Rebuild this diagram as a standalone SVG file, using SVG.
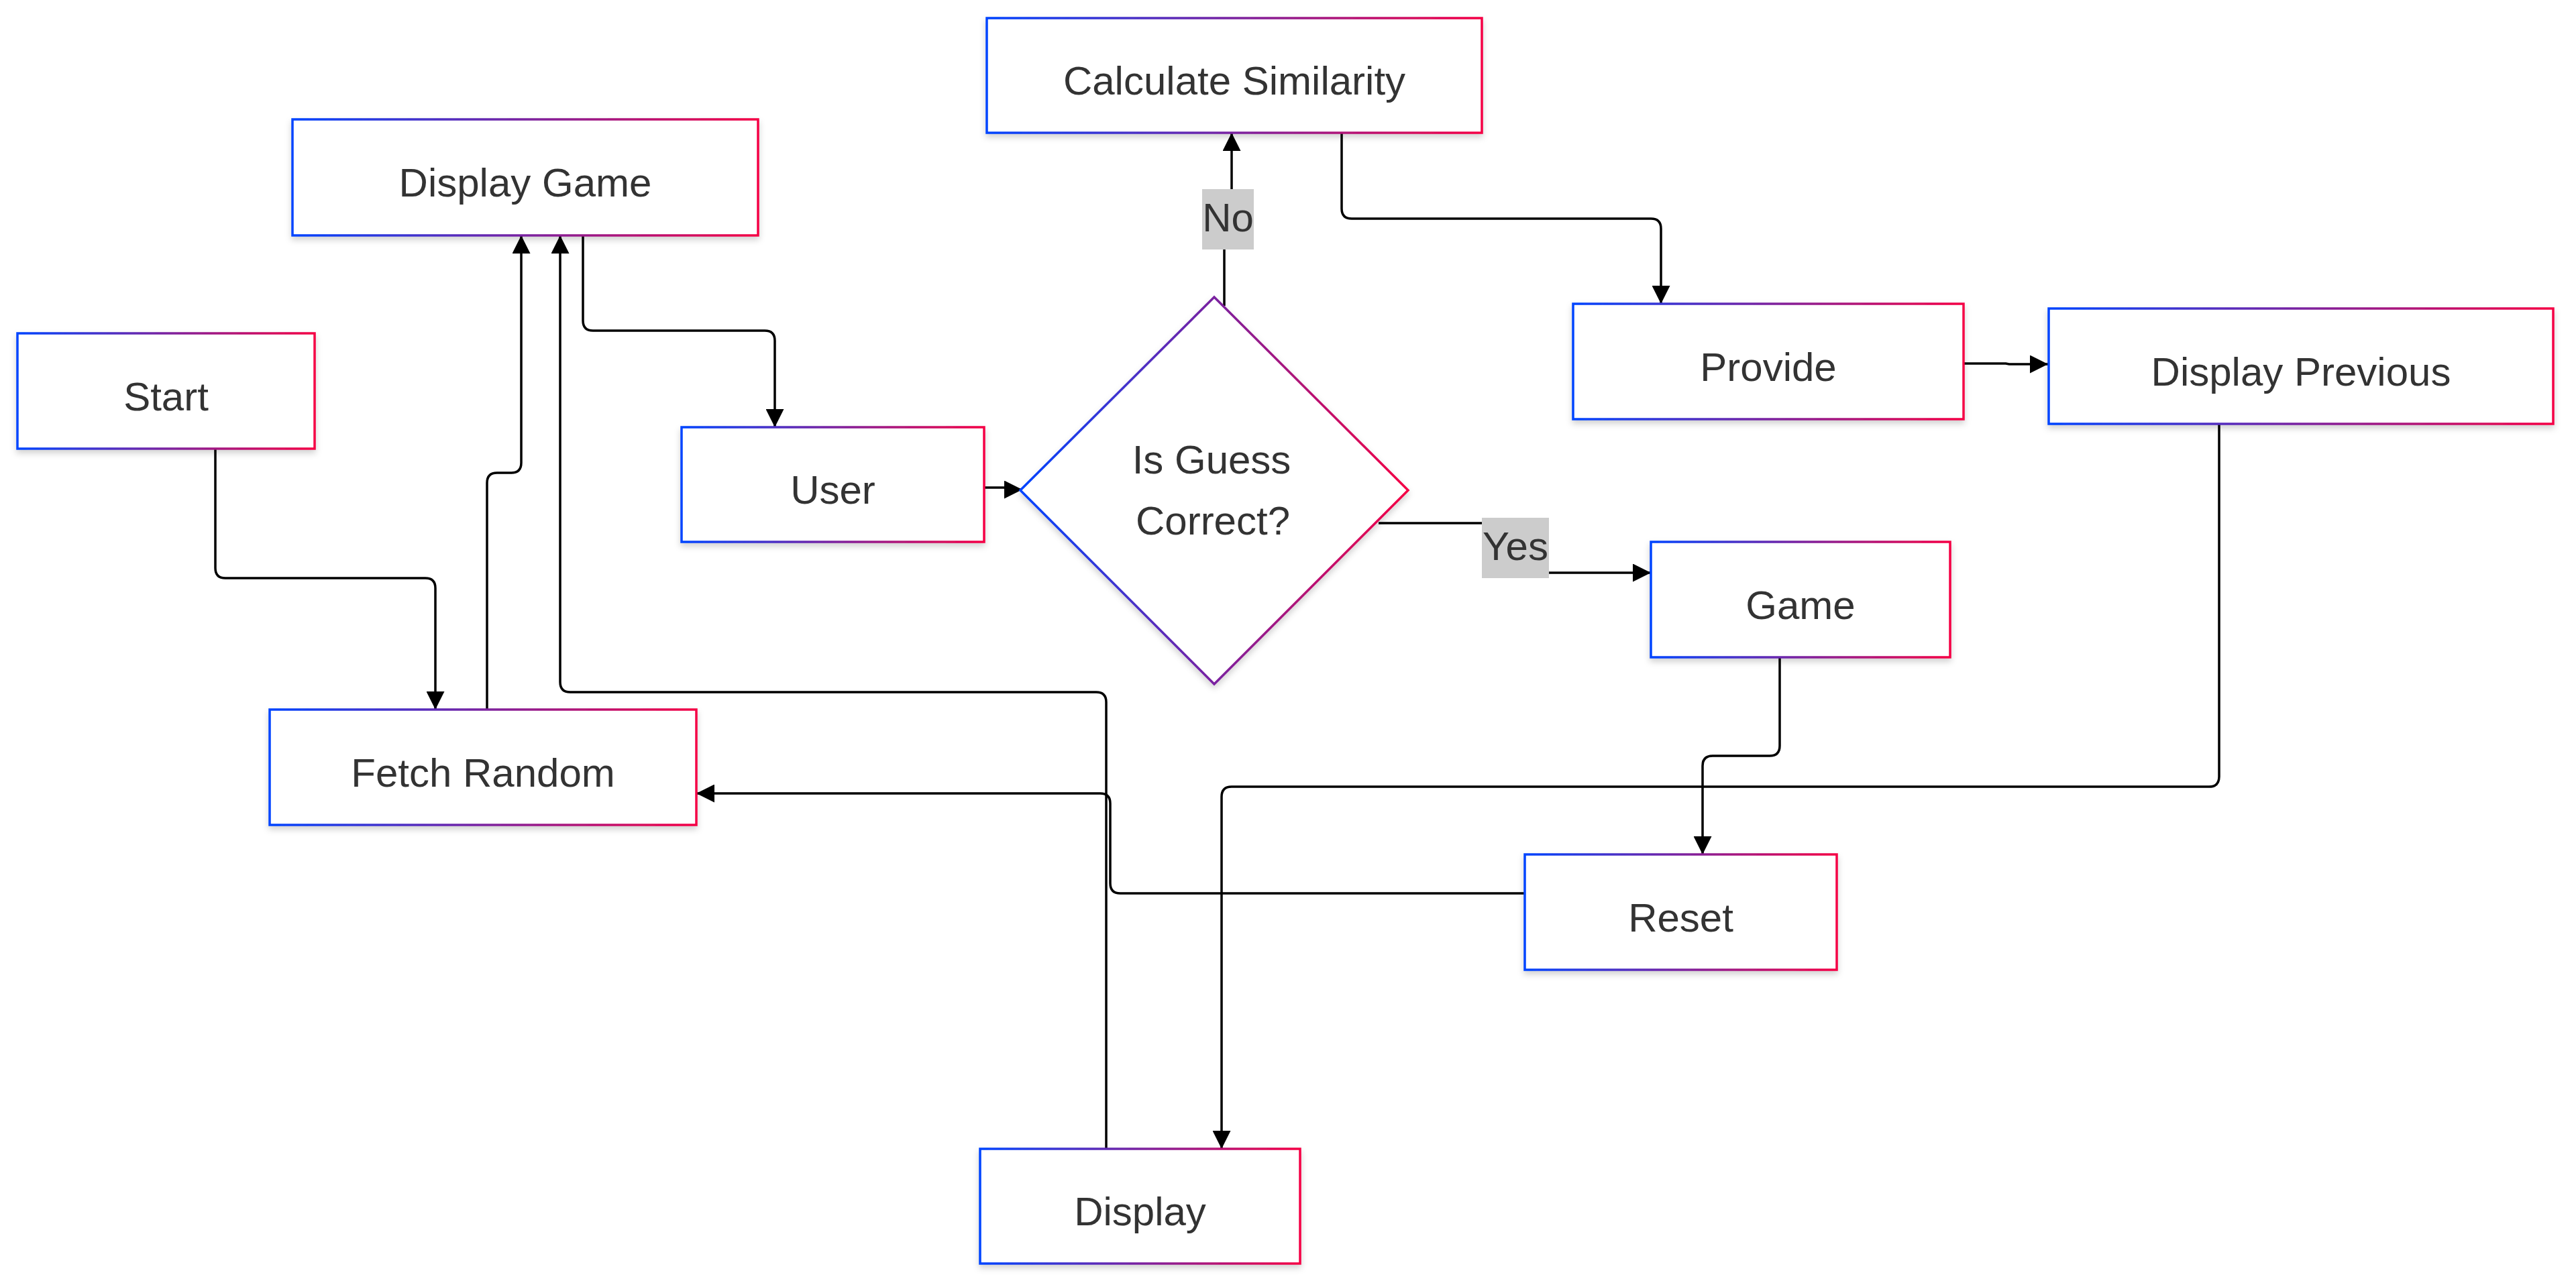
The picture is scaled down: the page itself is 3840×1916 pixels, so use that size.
<svg xmlns="http://www.w3.org/2000/svg" width="3840" height="1916" viewBox="0 0 3840 1916">
<defs>
<linearGradient id="g" x1="0" y1="0" x2="1" y2="0">
<stop offset="0" stop-color="#0044ff"/>
<stop offset="0.5" stop-color="#7a22a0"/>
<stop offset="1" stop-color="#f50044"/>
</linearGradient>
<filter id="sh" x="-10%" y="-10%" width="120%" height="130%">
<feDropShadow dx="0" dy="5" stdDeviation="5" flood-color="#000" flood-opacity="0.18"/>
</filter>
<marker id="arr" markerUnits="userSpaceOnUse" markerWidth="27" markerHeight="27" viewBox="0 0 10 10" refX="10" refY="5" orient="auto">
<path d="M0,0 L10,5 L0,10 z" fill="#000"/>
</marker>
</defs>
<style>
.n{fill:#fff;stroke:url(#g);stroke-width:3.5;filter:url(#sh)}
.t{font-family:"Liberation Sans",Arial,sans-serif;font-size:60px;fill:#333;text-anchor:middle}
.e{fill:none;stroke:#000;stroke-width:3.5;marker-end:url(#arr)}
.lb{fill:#cccccc}
</style>
<rect width="3840" height="1916" fill="#fff"/>
<g id="connectors">
<path class="e" d="M321,669 L321,847 Q321,862 336,862 L634,862 Q649,862 649,877 L649,1058"/>
<path class="e" d="M726,1058 L726,720 Q726,705 741,705 L762,705 Q777,705 777,690 L777,351"/>
<path class="e" d="M869,351 L869,478 Q869,493 884,493 L1140,493 Q1155,493 1155,508 L1155,637"/>
<path class="e" d="M1467,727 L1496,727 Q1500,727 1500,730 L1524,730"/>
<path class="e" d="M1825,456 L1825,330 Q1825,327 1829,327 L1832,327 Q1836,327 1836,322 L1836,198"/>
<path class="e" d="M2055,780 L2240,780 Q2255,780 2255,795 L2255,839 Q2255,854 2270,854 L2461,854"/>
<path class="e" d="M2000,198 L2000,311 Q2000,326 2015,326 L2461,326 Q2476,326 2476,341 L2476,453"/>
<path class="e" d="M2926,542 L2990,542 L2995,543 L3053,543"/>
<path class="e" d="M2653,980 L2653,1112 Q2653,1127 2638,1127 L2553,1127 Q2538,1127 2538,1142 L2538,1274"/>
<path class="e" d="M2273,1332 L1670,1332 Q1655,1332 1655,1317 L1655,1198 Q1655,1183 1640,1183 L1038,1183"/>
<path class="e" d="M3308,632 L3308,1158 Q3308,1173 3293,1173 L1836,1173 Q1821,1173 1821,1188 L1821,1713"/>
<path class="e" d="M1649,1713 L1649,1047 Q1649,1032 1634,1032 L850,1032 Q835,1032 835,1017 L835,351"/>
<g id="label-no">
<rect class="lb" x="1792" y="282" width="77" height="90"/>
<text class="t" x="1830.5" y="345">No</text>
</g>
<g id="label-yes">
<rect class="lb" x="2209" y="772" width="100" height="90"/>
<text class="t" x="2259" y="835">Yes</text>
</g>
</g>
<g id="start">
<rect class="n" x="26" y="497" width="443" height="172"/>
<text class="t" x="247.5" y="612">Start</text>
</g>
<g id="fetch-random">
<rect class="n" x="402" y="1058" width="636" height="172"/>
<text class="t" x="720" y="1173">Fetch Random</text>
</g>
<g id="display-game">
<rect class="n" x="436" y="178" width="694" height="173"/>
<text class="t" x="783" y="293">Display Game</text>
</g>
<g id="user">
<rect class="n" x="1016" y="637" width="451" height="171"/>
<text class="t" x="1241.5" y="751">User</text>
</g>
<g id="is-guess-correct">
<polygon class="n" points="1810,443 2099,731 1810,1020 1521,731"/>
<text class="t" x="1806" y="706">Is Guess</text>
<text class="t" x="1808" y="797">Correct?</text>
</g>
<g id="calculate-similarity">
<rect class="n" x="1471" y="27" width="738" height="171"/>
<text class="t" x="1840" y="141">Calculate Similarity</text>
</g>
<g id="provide">
<rect class="n" x="2345" y="453" width="582" height="172"/>
<text class="t" x="2636" y="568">Provide</text>
</g>
<g id="display-previous">
<rect class="n" x="3054" y="460" width="752" height="172"/>
<text class="t" x="3430" y="575">Display Previous</text>
</g>
<g id="game">
<rect class="n" x="2461" y="808" width="446" height="172"/>
<text class="t" x="2684" y="923">Game</text>
</g>
<g id="reset">
<rect class="n" x="2273" y="1274" width="465" height="172"/>
<text class="t" x="2505.5" y="1389">Reset</text>
</g>
<g id="display">
<rect class="n" x="1461" y="1713" width="477" height="171"/>
<text class="t" x="1699.5" y="1827">Display</text>
</g>
</svg>
